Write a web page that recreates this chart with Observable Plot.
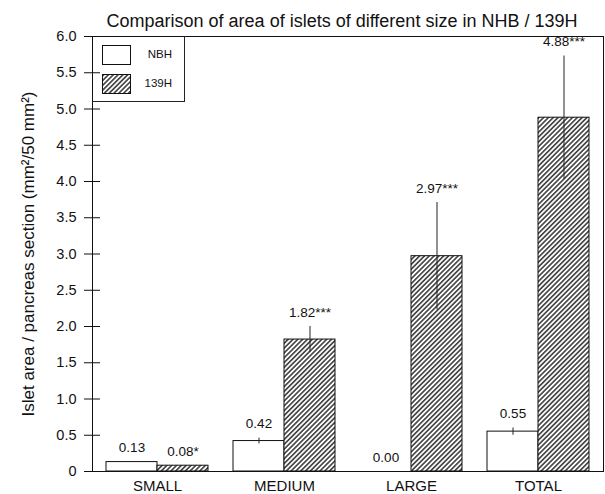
<!DOCTYPE html>
<html>
<head>
<meta charset="utf-8">
<script src="https://cdn.jsdelivr.net/npm/d3@7"></script>
<script src="https://cdn.jsdelivr.net/npm/@observablehq/plot@0.6"></script>
<style>
  body { margin: 0; background: white; font-family: "Liberation Sans", Arial, sans-serif; }
  #wrap { position: relative; width: 605px; height: 494px; }
  #title { position: absolute; left: 80px; width: 524px; top: 11px; text-align: center; font-size: 18px; line-height: 20px; color: #111; }
  #legend { position: absolute; left: 92px; top: 36px; width: 92px; height: 65px; border-right: 1px solid #222; border-bottom: 1px solid #222; }
  #legend .row { position: absolute; left: 10px; width: 70px; height: 20px; }
  #legend svg { position: absolute; left: 0; top: 0; }
  #legend span { position: absolute; right: 0; top: 3px; font-size: 11.5px; color: #111; }
  g[aria-label="ylabel"] text { letter-spacing: 1.5px; }
</style>
</head>
<body>
<svg width="0" height="0" style="position:absolute">
  <defs>
    <pattern id="hatch" patternUnits="userSpaceOnUse" width="3.4" height="10" patternTransform="rotate(45)">
      <rect width="3.4" height="10" fill="white"></rect>
      <line x1="1.7" y1="0" x2="1.7" y2="10" stroke="#111" stroke-width="1.3"></line>
    </pattern>
  </defs>
</svg>
<div id="wrap">
  <div id="chart"></div>
  <div id="title">Comparison of area of islets of different size in NHB / 139H</div>
  <div id="legend">
    <div class="row" style="top:9px"><svg width="30" height="21"><rect x="0.5" y="0.5" width="28" height="19" fill="white" stroke="#111"></rect></svg><span>NBH</span></div>
    <div class="row" style="top:38px"><svg width="30" height="21"><rect x="0.5" y="0.5" width="28" height="19" fill="url(#hatch)" stroke="#111"></rect></svg><span>139H</span></div>
  </div>
</div>
<script>
const categories = ["SMALL", "MEDIUM", "LARGE", "TOTAL"];
const nbh = [0.13, 0.42, 0.00, 0.55];
const nbhErr = [0, 0.04, 0, 0.05];
const h139 = [0.08, 1.82, 2.97, 4.88];
const h139Err = [0, 0.18, 0.74, 0.85];
const h139Sig = ["*", "***", "***", "***"];
const yTicks = [0, 0.5, 1, 1.5, 2, 2.5, 3, 3.5, 4, 4.5, 5, 5.5, 6];
const yLabel = "Islet area / pancreas section (mm²/50 mm²)";

const rows = categories.map((cat, i) => ({
  cat, nbh: nbh[i], nbhErr: nbhErr[i], h139: h139[i], h139Err: h139Err[i], sig: h139Sig[i]
}));

const plot = Plot.plot({
  width: 605,
  height: 494,
  marginLeft: 92,
  marginRight: 2,
  marginTop: 36,
  marginBottom: 23,
  style: { fontFamily: "Liberation Sans, Arial, sans-serif", background: "white", color: "#111", overflow: "visible" },
  x: { domain: categories, paddingInner: 0.2, paddingOuter: 0.1, axis: null },
  y: { domain: [0, 6], axis: null },
  marks: [
    Plot.barY(rows, { x: "cat", y: "nbh", fill: "white", stroke: "#111", strokeWidth: 1, insetRight: 51 }),
    Plot.barY(rows, { x: "cat", y: "h139", fill: "url(#hatch)", stroke: "#111", strokeWidth: 1, insetLeft: 51 }),
    Plot.ruleX(rows.filter(d => d.nbhErr > 0), { x: "cat", y1: d => d.nbh - d.nbhErr, y2: d => d.nbh + d.nbhErr, dx: -25.5, stroke: "#222", strokeWidth: 1 }),
    Plot.ruleX(rows.filter(d => d.h139Err > 0), { x: "cat", y1: d => d.h139 - d.h139Err, y2: d => d.h139 + d.h139Err, dx: 25.5, stroke: "#222", strokeWidth: 1 }),
    Plot.text(rows, { x: "cat", y: d => d.nbh + d.nbhErr, text: d => d.nbh.toFixed(2), dx: -25.5, dy: -14, fontSize: 13.5, fill: "#111" }),
    Plot.text(rows, { x: "cat", y: d => d.h139 + d.h139Err, text: d => d.h139.toFixed(2) + d.sig, dx: 25.5, dy: -14, fontSize: 13.5, fill: "#111" }),
    Plot.frame({ stroke: "#111", strokeWidth: 1 }),
    Plot.axisY({ ticks: yTicks, tickSize: 16, dx: 8, tickFormat: () => "", stroke: "#111", label: null }),
    Plot.axisY({ ticks: yTicks, tickSize: 0, tickPadding: 16, tickFormat: d => d === 0 ? "0" : d.toFixed(1), fontSize: 14.5, fill: "#111", label: null }),
    Plot.axisX({ tickSize: 0, tickPadding: 9, fontSize: 15, fill: "#111", label: null }),
    Plot.text([yLabel], { frameAnchor: "left", rotate: -90, dx: -59, textAnchor: "middle", lineAnchor: "bottom", fontSize: 17, fill: "#111", ariaLabel: "ylabel" })
  ]
});
document.getElementById("chart").appendChild(plot);
</script>
</body>
</html>
